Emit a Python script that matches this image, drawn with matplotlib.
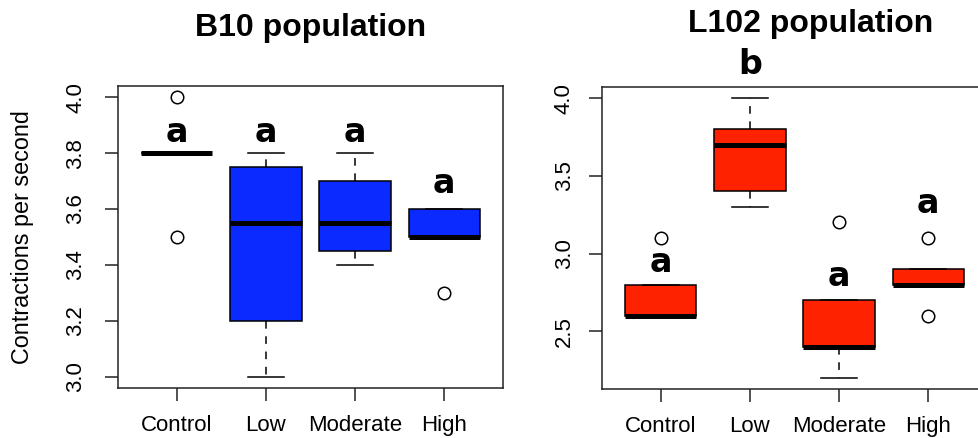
import matplotlib
matplotlib.use('Agg')
from matplotlib import pyplot as plt

# treatment groups on the x axis
groups = ['Control', 'Low', 'Moderate', 'High']

# B10 population: box summaries
b10_med = [3.8, 3.55, 3.55, 3.5]
b10_q1 = [3.8, 3.2, 3.45, 3.5]
b10_q3 = [3.8, 3.75, 3.7, 3.6]
b10_lo = [3.8, 3.0, 3.4, 3.5]
b10_hi = [3.8, 3.8, 3.8, 3.6]
b10_out = [[4.0, 3.5], [], [], [3.3]]
b10_letters = ['a', 'a', 'a', 'a']
b10_letter_y = [3.875, 3.875, 3.875, 3.69]

# L102 population: box summaries
l102_med = [2.6, 3.7, 2.4, 2.8]
l102_q1 = [2.6, 3.4, 2.4, 2.8]
l102_q3 = [2.8, 3.8, 2.7, 2.9]
l102_lo = [2.6, 3.3, 2.2, 2.8]
l102_hi = [2.8, 4.0, 2.7, 2.9]
l102_out = [[3.1], [], [3.2], [3.1, 2.6]]
l102_letters = ['a', 'b', 'a', 'a']
l102_letter_y = [2.94, 4.22, 2.855, 3.32]

plt.rcParams['font.family'] = ['Liberation Sans', 'DejaVu Sans']

fig = plt.figure(figsize=(9.79, 4.38), dpi=100)


def make_stats(med, q1, q3, lo, hi, out):
    stats = []
    for i in range(len(med)):
        stats.append({'med': med[i], 'q1': q1[i], 'q3': q3[i],
                      'whislo': lo[i], 'whishi': hi[i], 'fliers': out[i]})
    return stats


def draw_panel(ax, stats, color, ylim, yticks, letters, letter_y, ypad):
    ax.bxp(stats, positions=[1, 2, 3, 4], widths=0.8, patch_artist=True,
           showfliers=True,
           boxprops=dict(facecolor=color, edgecolor='black', linewidth=1.1),
           medianprops=dict(color='black', linewidth=3.6, solid_capstyle='butt'),
           whiskerprops=dict(color='black', linewidth=1.1, linestyle=(0, (5, 5))),
           capprops=dict(color='black', linewidth=1.1),
           flierprops=dict(marker='o', markersize=9, markerfacecolor='none',
                           markeredgecolor='black', markeredgewidth=1.1))
    ax.set_xlim(0.34, 4.66)
    ax.set_ylim(*ylim)
    ax.set_yticks(yticks)
    ax.set_yticklabels(['%.1f' % v for v in yticks], rotation=90, va='center')
    ax.set_xticks([1, 2, 3, 4])
    ax.set_xticklabels(groups)
    ax.tick_params(axis='both', direction='out', length=9.5, width=1.1,
                   labelsize=16, colors='#222222', labelcolor='black')
    ax.tick_params(axis='y', pad=ypad)
    ax.tick_params(axis='x', pad=10)
    for s in ax.spines.values():
        s.set_linewidth(1.1)
        s.set_color('#222222')
    for i, t in enumerate(letters):
        ax.text(i + 1, letter_y[i], t, ha='center', va='center',
                fontsize=24, fontweight='bold', family='DejaVu Sans',
                clip_on=False)


ax1 = fig.add_axes([118 / 979, 1 - 388 / 438, 385 / 979, 302 / 438])
draw_panel(ax1, make_stats(b10_med, b10_q1, b10_q3, b10_lo, b10_hi, b10_out),
           '#0a2aff', (2.96, 4.04), [3.0, 3.2, 3.4, 3.6, 3.8, 4.0],
           b10_letters, b10_letter_y, 13.5)

ax2 = fig.add_axes([602 / 979, 1 - 389 / 438, 385 / 979, 302 / 438])
draw_panel(ax2, make_stats(l102_med, l102_q1, l102_q3, l102_lo, l102_hi, l102_out),
           '#ff2200', (2.128, 4.072), [2.5, 3.0, 3.5, 4.0],
           l102_letters, l102_letter_y, 10)

fig.text(311 / 979, 1 - 36 / 438, 'B10 population', ha='center', va='baseline',
         fontsize=23, fontweight='bold')
fig.text(811 / 979, 1 - 32 / 438, 'L102 population', ha='center', va='baseline',
         fontsize=23, fontweight='bold')
fig.text(23 / 979, 1 - 237 / 438, 'Contractions per second', rotation=90,
         ha='center', va='center', fontsize=16.8)

fig.savefig('out.png', dpi=100)
